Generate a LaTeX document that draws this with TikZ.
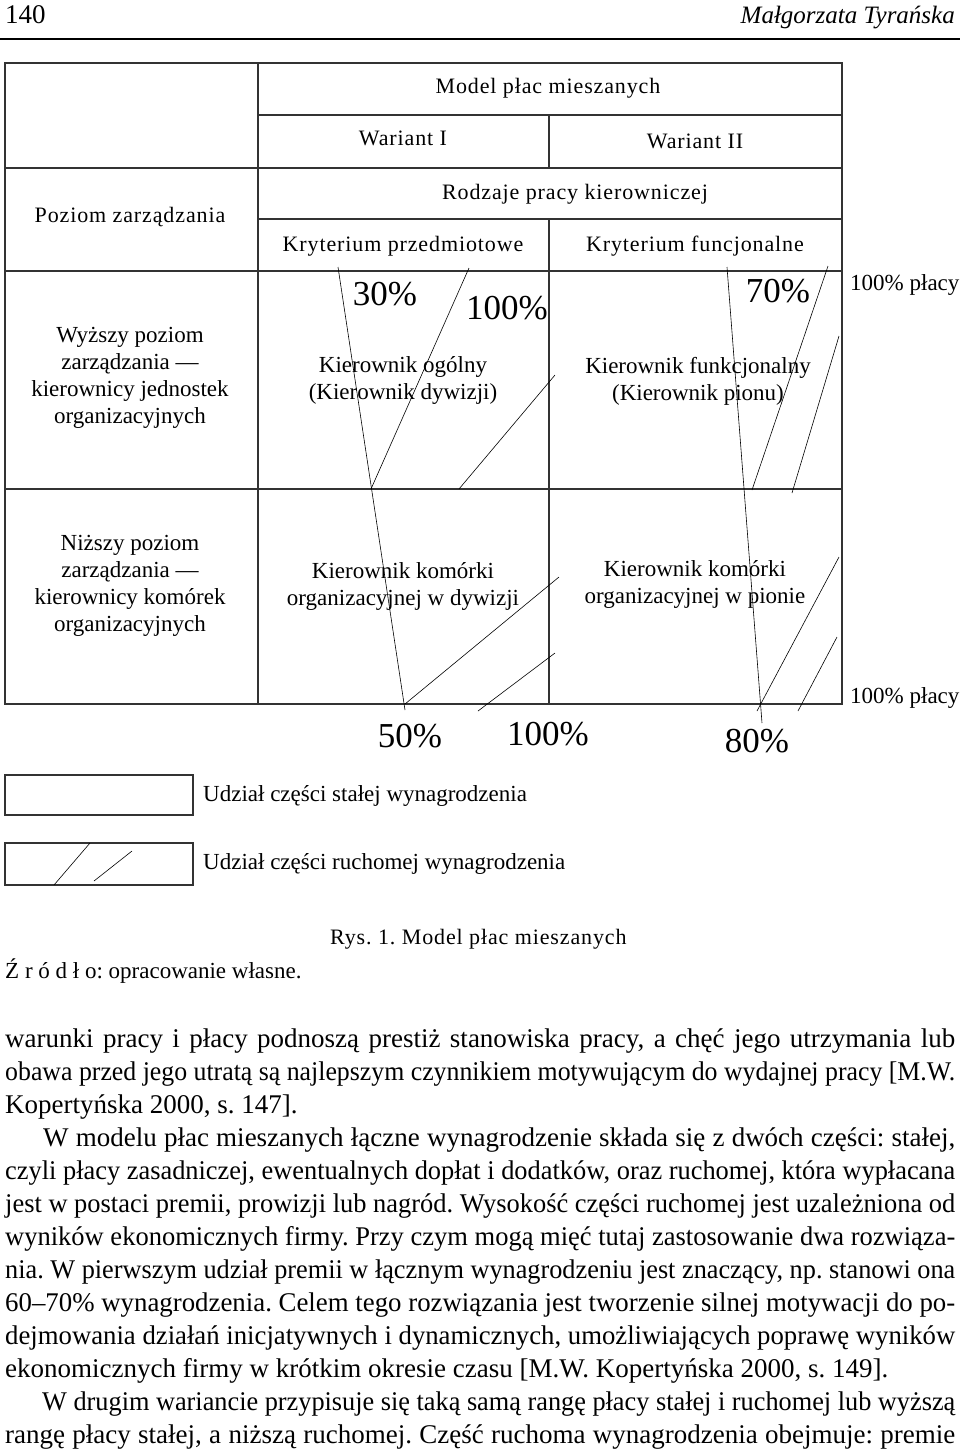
\documentclass[tikz,border=0pt]{standalone}
\usepackage{fontspec}
\setmainfont{Liberation Serif}
\newfontfamily\bodyfont{Liberation Serif}
\newfontfamily\headfont[LetterSpace=4]{Liberation Serif}
\usepackage{tikz}
\frenchspacing

% one justified line of the page text
\newsavebox\jbox
\newcommand\jline[1]{\sbox\jbox{#1}%
  \ifdim\wd\jbox>950pt\resizebox{950pt}{\height}{\usebox\jbox}%
  \else\makebox[950pt][s]{#1}\fi}

\begin{document}
\begin{tikzpicture}[x=1pt, y=-1pt,
  grid/.style={line width=1.4pt, draw=black!80},
  hatch/.style={line width=0.6pt},
  cell/.style={align=center, inner sep=0pt, font=\fontsize{23}{27}\selectfont},
  head/.style={inner sep=0pt, font=\headfont\fontsize{22}{26}\selectfont},
  pct/.style={inner sep=0pt, font=\fontsize{35}{40}\selectfont},
  line/.style={anchor=base west, inner sep=0pt, font=\bodyfont\fontsize{27}{33}\selectfont}]
  \useasboundingbox (0,0) rectangle (960,1452);

  % running head
  \node[anchor=base west, inner sep=0pt, font=\fontsize{27}{30}\selectfont] (pnum) at (5,23) {140};
  \node[anchor=base east, inner sep=0pt, font=\itshape\fontsize{25}{30}\selectfont] (auth) at (955,23) {Małgorzata Tyrańska};
  \draw[line width=2pt] (0,39) -- (960,39);

  % table
  \draw[grid] (5,63) rectangle (842,704);
  \draw[grid] (258,63) -- (258,704);
  \draw[grid] (258,115) -- (842,115);
  \draw[grid] (5,168) -- (842,168);
  \draw[grid] (258,219) -- (842,219);
  \draw[grid] (5,271) -- (842,271);
  \draw[grid] (5,489) -- (842,489);
  \draw[grid] (549,115) -- (549,168);
  \draw[grid] (549,219) -- (549,704);

  \node[head] (model) at (548,88) {Model płac mieszanych};
  \node[head] (war1) at (403,138) {Wariant I};
  \node[head] (war2) at (695,141) {Wariant II};
  \node[head] (poziom) at (130,217) {Poziom zarządzania};
  \node[head] (rodzaje) at (575,194) {Rodzaje pracy kierowniczej};
  \node[head] (kprzed) at (403,246) {Kryterium przedmiotowe};
  \node[head] (kfunk) at (695,246) {Kryterium funcjonalne};

  \node[cell] (wyzszy) at (130,378) {Wyższy poziom\\zarządzania —\\kierownicy jednostek\\organizacyjnych};
  \node[cell] (nizszy) at (130,586) {Niższy poziom\\zarządzania —\\kierownicy komórek\\organizacyjnych};
  \node[cell] (kogol) at (403,380) {Kierownik ogólny\\(Kierownik dywizji)};
  \node[cell] (kfun) at (698,381) {Kierownik funkcjonalny\\(Kierownik pionu)};
  \node[cell] (kkdyw) at (403,586) {Kierownik komórki\\organizacyjnej w dywizji};
  \node[cell] (kkpion) at (695,584) {Kierownik komórki\\organizacyjnej w pionie};

  % shares
  \node[pct] (p30) at (385,294) {30\%};
  \node[pct] (p100a) at (507,308) {100\%};
  \node[pct] (p70) at (778,291) {70\%};
  \node[pct] (p50) at (410,736) {50\%};
  \node[pct] (p100b) at (548,734) {100\%};
  \node[pct] (p80) at (757,741) {80\%};
  \node[cell, anchor=west] (placy1) at (850,285) {100\% płacy};
  \node[cell, anchor=west] (placy2) at (850,698) {100\% płacy};

  \foreach \xa/\ya/\xb/\yb in {338/267/405/710, 469/268/371/489, 555/375/459/489,
                               727/267/762/723, 828/266/752/490, 839/336/792/493,
                               559/577/405/704, 555/653/478/711,
                               839/557/757/711, 837/637/798/711} {
    \draw[hatch] (\xa,\ya) -- (\xb,\yb);
  }

  % legend
  \draw[grid] (5,775) rectangle (193,815);
  \draw[grid] (5,843) rectangle (193,885);
  \draw[hatch] (54,885) -- (90,843);
  \draw[hatch] (94,881) -- (132,851);
  \node[cell, anchor=west] (leg1) at (203,796) {Udział części stałej wynagrodzenia};
  \node[cell, anchor=west] (leg2) at (203,864) {Udział części ruchomej wynagrodzenia};

  \node[head, anchor=west] (rys) at (330,939) {Rys. 1. Model płac mieszanych};
  \node[cell, anchor=west] (zrodlo) at (5,971) {Ź r ó d ł o: opracowanie własne.};

  % body text
  \node[line] (l1) at (5,1047) {\jline{warunki pracy i płacy podnoszą prestiż stanowiska pracy, a chęć jego utrzymania lub}};
  \node[line] (l2) at (5,1080) {\jline{obawa przed jego utratą są najlepszym czynnikiem motywującym do wydajnej pracy [M.W.}};
  \node[line] (l3) at (5,1113) {Kopertyńska 2000, s. 147].};
  \node[line] (l4) at (5,1146) {\jline{\hspace*{38pt}W modelu płac mieszanych łączne wynagrodzenie składa się z dwóch części: stałej,}};
  \node[line] (l5) at (5,1179) {\jline{czyli płacy zasadniczej, ewentualnych dopłat i dodatków, oraz ruchomej, która wypłacana}};
  \node[line] (l6) at (5,1212) {\jline{jest w postaci premii, prowizji lub nagród. Wysokość części ruchomej jest uzależniona od}};
  \node[line] (l7) at (5,1245) {\jline{wyników ekonomicznych firmy. Przy czym mogą mięć tutaj zastosowanie dwa rozwiąza-}};
  \node[line] (l8) at (5,1278) {\jline{nia. W pierwszym udział premii w łącznym wynagrodzeniu jest znaczący, np. stanowi ona}};
  \node[line] (l9) at (5,1311) {\jline{60–70\% wynagrodzenia. Celem tego rozwiązania jest tworzenie silnej motywacji do po-}};
  \node[line] (l10) at (5,1344) {\jline{dejmowania działań inicjatywnych i dynamicznych, umożliwiających poprawę wyników}};
  \node[line] (l11) at (5,1377) {ekonomicznych firmy w krótkim okresie czasu [M.W. Kopertyńska 2000, s. 149].};
  \node[line] (l12) at (5,1410) {\jline{\hspace*{38pt}W drugim wariancie przypisuje się taką samą rangę płacy stałej i ruchomej lub wyższą}};
  \node[line] (l13) at (5,1443) {\jline{rangę płacy stałej, a niższą ruchomej. Część ruchoma wynagrodzenia obejmuje: premie}};
\end{tikzpicture}
\end{document}
